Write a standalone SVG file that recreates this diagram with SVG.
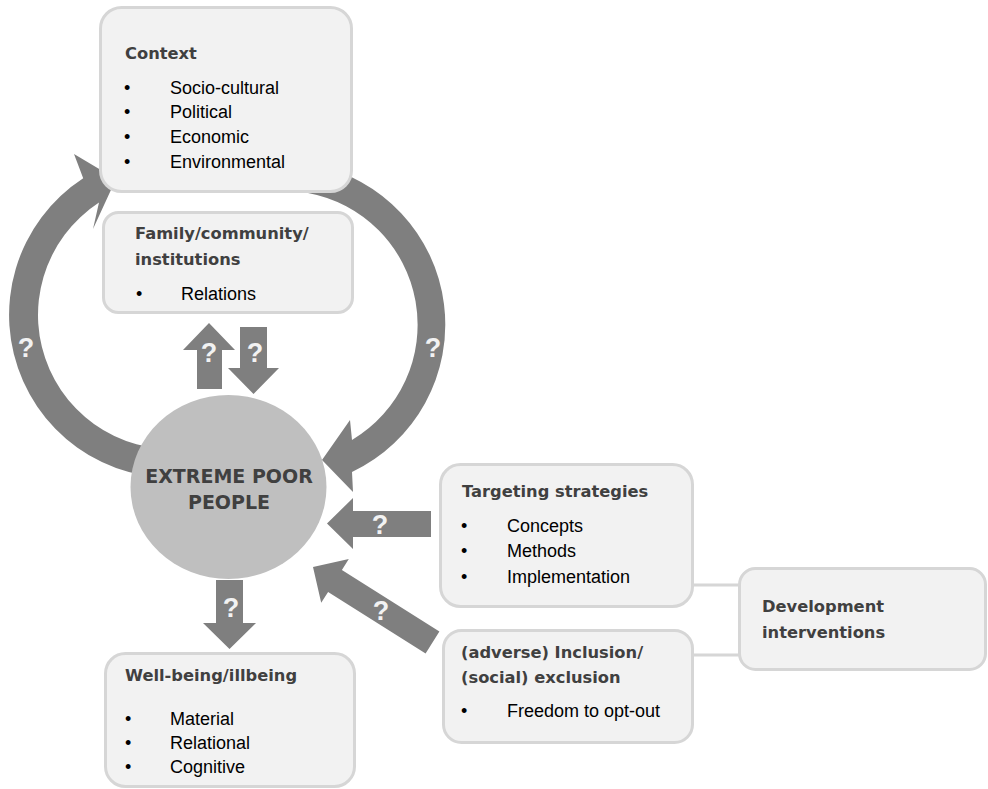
<svg xmlns="http://www.w3.org/2000/svg" width="988" height="789" viewBox="0 0 988 789">
<style>
.box{fill:#f2f2f2;stroke:#d6d6d6;stroke-width:3}
.arr{fill:#7f7f7f}
.q{font-family:"Liberation Sans",Arial,sans-serif;font-weight:bold;font-size:27px;fill:#f2f2f2;text-anchor:middle}
.t{font-family:"DejaVu Sans",sans-serif;font-weight:bold;font-size:16.3px;fill:#404040}
.b{font-family:"Liberation Sans",Arial,sans-serif;font-size:18px;fill:#000}
.ln{stroke:#d6d6d6;stroke-width:3;fill:none}
.c{font-family:"DejaVu Sans",sans-serif;font-weight:bold;font-size:19px;fill:#404040;text-anchor:middle}
</style>
<rect width="988" height="789" fill="#ffffff"/>
<g id="connectors">
  <path class="arr" d="M 214.2 472.4 A 163 163 0 0 1 83.2 178.3 L 74 154 L 116 179 L 93 229 L 99 202.6 A 134 134 0 0 0 206.7 444.4 Z"/>
  <text class="q" x="26" y="357">?</text>
  <path class="arr" d="M 313.1 164.6 A 163 163 0 0 1 352 472 L 353 492 L 322 460 L 350 420 L 352 440 A 134 134 0 0 0 308 193 Z"/>
  <text class="q" x="433" y="357">?</text>
  <path class="arr" d="M 197 389 L 197 350 L 183 350 L 209 323 L 235 350 L 222 350 L 222 389 Z"/>
  <text class="q" x="209" y="362">?</text>
  <path class="arr" d="M 240 327 L 267 327 L 267 368 L 279 368 L 253.5 394 L 228 368 L 240 368 Z"/>
  <text class="q" x="255" y="362">?</text>
  <path class="arr" d="M 216 580 L 243 580 L 243 623 L 256 623 L 229.5 649 L 203 623 L 216 623 Z"/>
  <text class="q" x="231" y="617">?</text>
  <path class="arr" d="M 431 511 L 431 537 L 353 537 L 353 549 L 327 523.5 L 353 498 L 353 511 Z"/>
  <text class="q" x="380" y="534">?</text>
  <path class="arr" d="M 439.4 631.5 L 341.9 569.9 L 348.8 559.1 L 313 567 L 321.2 602.7 L 328.1 591.9 L 425.6 653.5 Z"/>
  <text class="q" x="381" y="620">?</text>
  <path class="ln" d="M 693 585 H 739 M 693 655 H 739"/>
</g>
<g id="context">
  <rect class="box" x="100.5" y="7.5" width="251" height="184" rx="21"/>
  <text class="t" x="125" y="59">Context</text>
  <text class="b" x="124" y="94">•</text><text class="b" x="170" y="94">Socio-cultural</text>
  <text class="b" x="124" y="118">•</text><text class="b" x="170" y="118">Political</text>
  <text class="b" x="124" y="143">•</text><text class="b" x="170" y="143">Economic</text>
  <text class="b" x="124" y="168">•</text><text class="b" x="170" y="168">Environmental</text>
</g>
<g id="family">
  <rect class="box" x="103.5" y="212.5" width="249" height="100" rx="15"/>
  <text class="t" x="135" y="239">Family/community/</text>
  <text class="t" x="135" y="265">institutions</text>
  <text class="b" x="136" y="300">•</text><text class="b" x="181" y="300">Relations</text>
</g>
<g id="extreme-poor">
  <ellipse cx="228.5" cy="487" rx="98" ry="92" fill="#bfbfbf"/>
  <text class="c" x="229" y="483">EXTREME POOR</text>
  <text class="c" x="229" y="509">PEOPLE</text>
</g>
<g id="wellbeing">
  <rect class="box" x="105.5" y="653.5" width="249" height="133" rx="20"/>
  <text class="t" x="125" y="681">Well-being/illbeing</text>
  <text class="b" x="125" y="725">•</text><text class="b" x="170" y="725">Material</text>
  <text class="b" x="125" y="749">•</text><text class="b" x="170" y="749">Relational</text>
  <text class="b" x="125" y="773">•</text><text class="b" x="170" y="773">Cognitive</text>
</g>
<g id="targeting">
  <rect class="box" x="440.5" y="464.5" width="252" height="142" rx="20"/>
  <text class="t" x="462" y="497">Targeting strategies</text>
  <text class="b" x="461" y="532">•</text><text class="b" x="507" y="532">Concepts</text>
  <text class="b" x="461" y="557">•</text><text class="b" x="507" y="557">Methods</text>
  <text class="b" x="461" y="583">•</text><text class="b" x="507" y="583">Implementation</text>
</g>
<g id="inclusion">
  <rect class="box" x="443.5" y="630.5" width="249" height="112" rx="18"/>
  <text class="t" x="461" y="658">(adverse) Inclusion/</text>
  <text class="t" x="461" y="683">(social) exclusion</text>
  <text class="b" x="461" y="717">•</text><text class="b" x="507" y="717">Freedom to opt-out</text>
</g>
<g id="development">
  <rect class="box" x="739.5" y="568.5" width="246" height="101" rx="16"/>
  <text class="t" x="762" y="612">Development</text>
  <text class="t" x="762" y="638">interventions</text>
</g>
</svg>
